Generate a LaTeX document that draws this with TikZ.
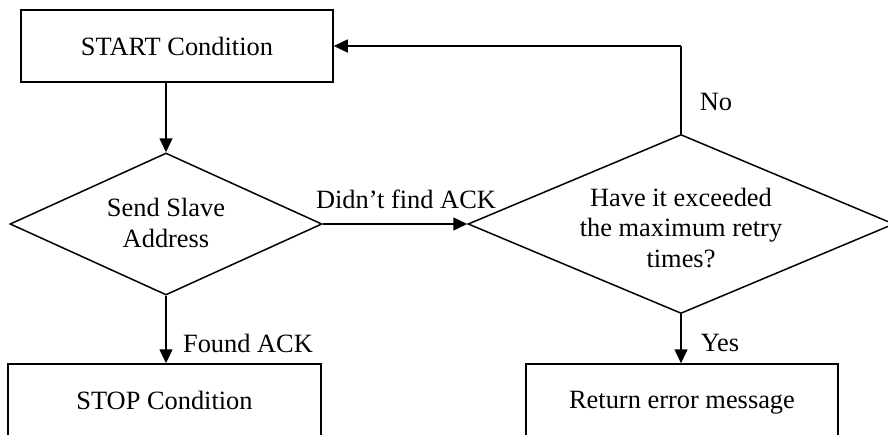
\documentclass[tikz,border=0pt]{standalone}
\usepackage{fontspec}
\setmainfont{Liberation Serif}
\usetikzlibrary{shapes.geometric,arrows.meta}
\tikzset{
  box/.style={draw, line width=1.5pt, minimum width=312pt, minimum height=72pt, inner sep=0pt, text depth=0pt},
  decision/.style={draw, diamond, line width=1.5pt, inner sep=0pt},
  txt/.style={align=center, inner sep=0pt, font=\fontsize{26.4}{30.4}\selectfont},
  arrow/.style={line width=1.5pt, -{Triangle[length=14pt,width=13pt]}},
  conn/.style={line width=1.5pt}
}
\begin{document}
\begin{tikzpicture}[x=1pt,y=-1pt]
\useasboundingbox (0,0) rectangle (888,434);
\clip (0,0) rectangle (888,434);
\node[box, txt, minimum width=312pt, minimum height=72pt] (start) at (177,46) {START Condition};
\node[decision, minimum width=312pt, minimum height=142pt] (d1) at (166,224) {};
\node[txt] (d1t) at (166,223) {Send Slave\\Address};
\node[decision, minimum width=426pt, minimum height=179pt] (d2) at (681,224) {};
\node[txt] (d2t) at (681,228) {Have it exceeded\\the maximum retry\\times?};
\node[box, txt, minimum width=313pt, minimum height=72pt] (stop) at (164.5,400) {STOP Condition};
\node[box, txt, minimum width=312pt, minimum height=72pt] (err) at (682,400) {Return error message};
\draw[arrow] (d1.north |- start.south) -- (d1.north);
\draw[arrow] (d1.south) -- (d1.south |- stop.north);
\draw[arrow] (d1.east) -- (d2.west);
\draw[arrow] (d2.south) -- (d2.south |- err.north);
\coordinate (corner) at (d2.north |- start.east);
\draw[conn] (d2.north) -- (corner);
\draw[arrow] (corner) -- (start.east);
\node[txt] (l1) at (406,199) {Didn’t find ACK};
\node[txt] (l2) at (716,102) {No};
\node[txt] (l3) at (720,343) {Yes};
\node[txt] (l4) at (248,343) {Found ACK};
\end{tikzpicture}
\end{document}
